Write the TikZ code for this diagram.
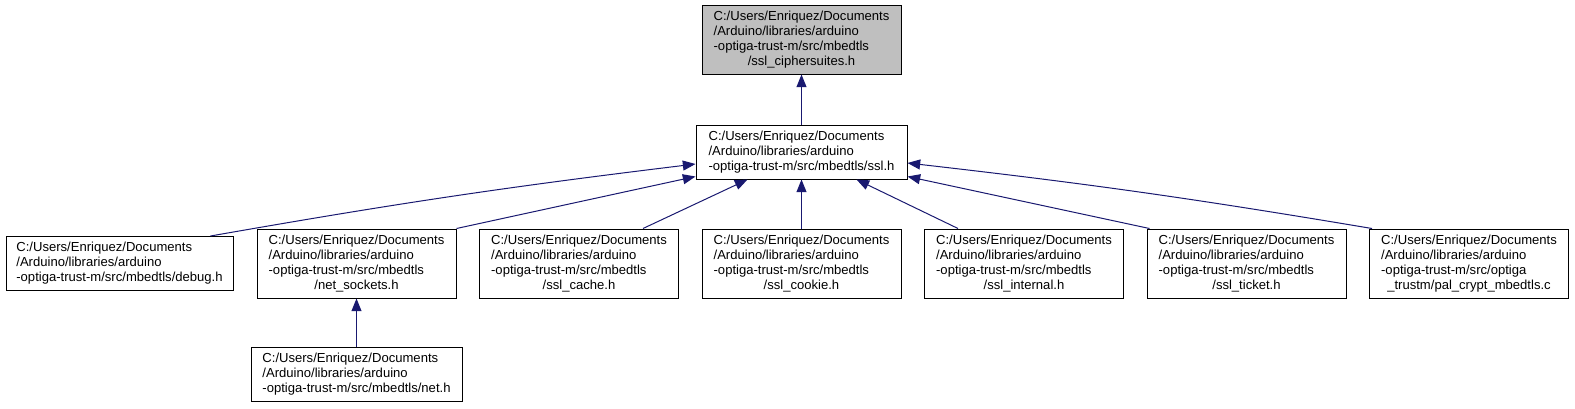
\documentclass[tikz,border=0pt]{standalone}
\usepackage{fontspec}
\setmainfont{Liberation Sans}
\usepackage{tikz}
\usetikzlibrary{arrows.meta, calc}

\definecolor{edgeblue}{HTML}{191970}
\definecolor{topgrey}{HTML}{BFBFBF}

\newcommand{\flines}[1]{\begin{tabular}{@{}l@{}}#1\end{tabular}}
\newcommand{\lastline}[1]{\multicolumn{1}{@{}c@{}}{#1}}
\newcommand{\ardir}{C:/Users/Enriquez/Documents\\/Arduino/libraries/arduino\\}

\begin{document}
\begin{tikzpicture}[
    x=0.75pt, y=0.75pt,
    file/.style={draw=black, fill=white, line width=0.75pt, inner sep=0pt,
        minimum width=149.25pt, minimum height=51.75pt,
        font=\fontsize{9.8}{11.25}\selectfont},
    short/.style={minimum height=40.5pt},
    dep/.style={draw=edgeblue, line width=0.75pt,
        -{Triangle[length=9.5pt, width=7.5pt]}, edgeblue}
]
    \useasboundingbox (0,0) rectangle (1575,-408);

    % de header en de directe includer
    \node[file, fill=topgrey] (cipher) at (801.5,-39.5)
        {\flines{\ardir -optiga-trust-m/src/mbedtls\\\lastline{/ssl\_ciphersuites.h}}};
    \node[file, short, minimum width=158.25pt] (sslh) at (801.5,-152)
        {\flines{\ardir -optiga-trust-m/src/mbedtls/ssl.h}};

    % bestanden die ssl.h includen
    \node[file, short, minimum width=170.25pt] (debug) at (119.5,-263.5)
        {\flines{\ardir -optiga-trust-m/src/mbedtls/debug.h}};
    \node[file] (netsock) at (356.5,-263.5)
        {\flines{\ardir -optiga-trust-m/src/mbedtls\\\lastline{/net\_sockets.h}}};
    \node[file] (cache) at (579,-263.5)
        {\flines{\ardir -optiga-trust-m/src/mbedtls\\\lastline{/ssl\_cache.h}}};
    \node[file] (cookie) at (801.5,-263.5)
        {\flines{\ardir -optiga-trust-m/src/mbedtls\\\lastline{/ssl\_cookie.h}}};
    \node[file] (internal) at (1024,-263.5)
        {\flines{\ardir -optiga-trust-m/src/mbedtls\\\lastline{/ssl\_internal.h}}};
    \node[file] (ticket) at (1246.5,-263.5)
        {\flines{\ardir -optiga-trust-m/src/mbedtls\\\lastline{/ssl\_ticket.h}}};
    \node[file] (pal) at (1469,-263.5)
        {\flines{\ardir -optiga-trust-m/src/optiga\\\lastline{\_trustm/pal\_crypt\_mbedtls.c}}};

    \node[file, short, minimum width=158.25pt] (neth) at (356.5,-374.5)
        {\flines{\ardir -optiga-trust-m/src/mbedtls/net.h}};

    % afhankelijkheden
    \draw[dep] (sslh) -- (cipher);
    \draw[dep] ($(debug.north east)+(-23,0)$) to[bend left=1.5] ($(sslh.west)+(0,-12)$);
    \draw[dep] (netsock.north east) -- ($(sslh.south west)+(0,3)$);
    \draw[dep] ($(cache.north)+(64,0)$) -- ($(sslh.south)+(-54,0)$);
    \draw[dep] (cookie) -- (sslh);
    \draw[dep] ($(internal.north)+(-66,0)$) -- ($(sslh.south)+(55,0)$);
    \draw[dep] ($(ticket.north west)+(3,0)$) -- ($(sslh.south east)+(0,3)$);
    \draw[dep] ($(pal.north west)+(3,0)$) to[bend right=1.5] ($(sslh.east)+(0,-11)$);
    \draw[dep] (neth) -- (netsock);
\end{tikzpicture}
\end{document}
